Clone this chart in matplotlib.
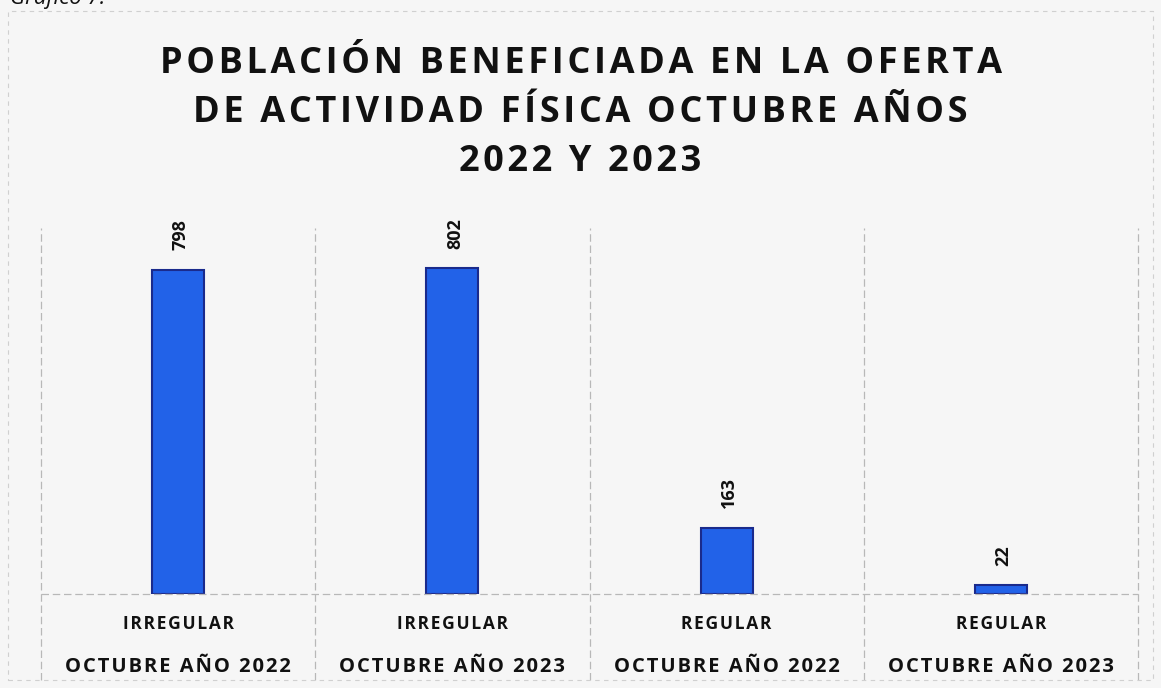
import matplotlib.pyplot as plt
from matplotlib.transforms import blended_transform_factory

# data
tipos = ["IRREGULAR", "IRREGULAR", "REGULAR", "REGULAR"]
periodos = ["OCTUBRE AÑO 2022", "OCTUBRE AÑO 2023", "OCTUBRE AÑO 2022", "OCTUBRE AÑO 2023"]
beneficiados = [798, 802, 163, 22]

titulo = ["POBLACIÓN BENEFICIADA EN LA OFERTA",
          "DE ACTIVIDAD FÍSICA OCTUBRE AÑOS",
          "2022 Y 2023"]

W, H = 1161, 688
bg = "#f6f6f6"
bar_color = "#2262e8"
edge_color = "#1a2a8c"
sep_color = "#b8b8b8"
HAIR = "\u200a"

plt.rcParams["font.family"] = ["Open Sans", "DejaVu Sans"]


def spaced(s):
    # the scanned chart uses slightly letter-spaced text
    return HAIR.join(s)


fig = plt.figure(figsize=(W / 100, H / 100), dpi=100, facecolor=bg)
ax = fig.add_axes([41 / W, (H - 594) / H, (1138 - 41) / W, (594 - 228) / H])
ax.set_facecolor(bg)

x = range(len(beneficiados))
bars = ax.bar(x, beneficiados, width=0.19, color=bar_color,
              edgecolor=edge_color, linewidth=1.5)
ax.set_xlim(-0.5, len(beneficiados) - 0.5)
ax.set_ylim(0, 901)

for rect, v in zip(bars, beneficiados):
    ax.annotate(str(v), (rect.get_x() + rect.get_width() / 2, v),
                xytext=(2, 14), textcoords="offset points",
                rotation=90, ha="center", va="bottom",
                fontsize=13, fontweight="bold", color="#111111",
                annotation_clip=False)

for s in ax.spines.values():
    s.set_visible(False)
ax.set_xticks([])
ax.set_yticks([])

trans = blended_transform_factory(ax.transData, ax.transAxes)
for b in [i - 0.5 for i in range(len(beneficiados) + 1)]:
    ax.plot([b, b], [-0.235, 1.0], transform=trans, clip_on=False,
            color=sep_color, lw=0.9, ls=(0, (6, 3)))
ax.plot([-0.5, len(beneficiados) - 0.5], [0, 0], transform=trans,
        clip_on=False, color=sep_color, lw=0.9, ls=(0, (6, 3)))

for i, (t, p) in enumerate(zip(tipos, periodos)):
    ax.text(i, -0.082, spaced(t), transform=trans, ha="center",
            va="center", fontsize=12.5, fontweight="bold", color="#111111")
    ax.text(i, -0.2, spaced(p), transform=trans, ha="center", va="center",
            fontsize=14.5, fontweight="bold", color="#111111")

fig.text(0.5, (H - 113) / H, "\n".join(spaced(l) for l in titulo),
         ha="center", va="center", fontsize=26, fontweight="bold",
         color="#111111", linespacing=1.47)

# caption cut by the top edge of the scan
fig.text(10 / W, (H - 4) / H, "Gráfico 7.", ha="left", va="baseline",
         fontsize=16, fontstyle="italic", color="#111111")

# faint outer frame of the chart
frame = plt.Rectangle((8 / W, 8 / H), (W - 16) / W, (H - 19) / H,
                      transform=fig.transFigure, fill=False,
                      edgecolor="#d0d0d0", lw=0.8, ls=(0, (4, 4)))
fig.patches.append(frame)

fig.savefig("out.png", dpi=100, facecolor=bg)
